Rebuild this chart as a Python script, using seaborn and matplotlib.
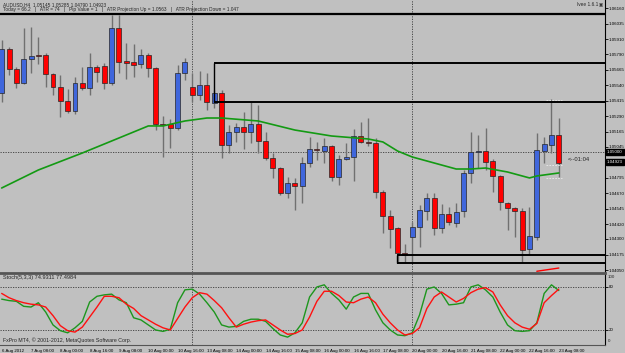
import numpy as np
import pandas as pd
import matplotlib
matplotlib.use("Agg")
import matplotlib.pyplot as plt
import seaborn as sns

# AUDUSD H4, one row per bar, bar 0 = 6 Aug 16:00, last bar = 23 Aug 08:00
opens = [1.05477, 1.05831, 1.05670, 1.05557, 1.05751, 1.05783, 1.05783, 1.05630, 1.05525, 1.05412,
         1.05332, 1.05557, 1.05517, 1.05686, 1.05694, 1.05557, 1.06001, 1.05735, 1.05726, 1.05710,
         1.05783, 1.05678, 1.05227, 1.05227, 1.05195, 1.05638, 1.05525, 1.05460, 1.05541, 1.05396,
         1.05477, 1.05058, 1.05162, 1.05203, 1.05162, 1.05227, 1.05090, 1.04953, 1.04872, 1.04671,
         1.04751, 1.04727, 1.04912, 1.05025, 1.05009, 1.05049, 1.04800, 1.04945, 1.04961, 1.05130,
         1.05082, 1.05074, 1.04679, 1.04485, 1.04389, 1.04187, 1.04316, 1.04397, 1.04526, 1.04630,
         1.04389, 1.04501, 1.04429, 1.04526, 1.04832, 1.05001, 1.05009, 1.04929, 1.04808, 1.04590,
         1.04550, 1.04526, 1.04219, 1.04316, 1.05009, 1.05058, 1.05138]
highs = [1.05904, 1.05847, 1.05686, 1.06001, 1.06009, 1.05928, 1.05799, 1.05638, 1.05622, 1.05509,
         1.05606, 1.05686, 1.05799, 1.05702, 1.05718, 1.06105, 1.06105, 1.05880, 1.05872, 1.05831,
         1.05799, 1.05686, 1.05291, 1.05267, 1.05702, 1.05759, 1.05638, 1.05654, 1.05638, 1.05501,
         1.05501, 1.05219, 1.05235, 1.05323, 1.05404, 1.05380, 1.05162, 1.04993, 1.04880, 1.04800,
         1.04792, 1.04961, 1.05122, 1.05082, 1.05114, 1.05058, 1.04977, 1.05074, 1.05186, 1.05243,
         1.05275, 1.05114, 1.04695, 1.04534, 1.04397, 1.04260, 1.04437, 1.04574, 1.04671, 1.04671,
         1.04582, 1.04558, 1.04590, 1.04856, 1.05162, 1.05138, 1.05195, 1.04945, 1.04816, 1.04598,
         1.04558, 1.04550, 1.04558, 1.05154, 1.05122, 1.05428, 1.05275]
lows = [1.05404, 1.05622, 1.05517, 1.05549, 1.05638, 1.05710, 1.05525, 1.05460, 1.05283, 1.05315,
        1.05307, 1.05501, 1.05460, 1.05565, 1.05509, 1.05541, 1.05638, 1.05589, 1.05606, 1.05678,
        1.05606, 1.05178, 1.04961, 1.05033, 1.05178, 1.05581, 1.05404, 1.05420, 1.05340, 1.05356,
        1.04953, 1.04993, 1.05082, 1.05025, 1.05074, 1.04993, 1.04937, 1.04792, 1.04655, 1.04630,
        1.04534, 1.04590, 1.04880, 1.04937, 1.04912, 1.04767, 1.04735, 1.04937, 1.04767, 1.05074,
        1.05049, 1.04630, 1.04348, 1.04227, 1.04106, 1.04106, 1.04106, 1.04235, 1.04453, 1.04332,
        1.04348, 1.04413, 1.04397, 1.04477, 1.04751, 1.04872, 1.04856, 1.04679, 1.04534, 1.04372,
        1.04316, 1.04115, 1.04171, 1.04292, 1.04912, 1.04993, 1.04800]
closes = [1.05831, 1.05670, 1.05557, 1.05751, 1.05775, 1.05775, 1.05630, 1.05525, 1.05412, 1.05332,
          1.05557, 1.05517, 1.05686, 1.05646, 1.05557, 1.06001, 1.05726, 1.05718, 1.05702, 1.05783,
          1.05678, 1.05227, 1.05219, 1.05195, 1.05638, 1.05726, 1.05460, 1.05541, 1.05404, 1.05477,
          1.05058, 1.05162, 1.05203, 1.05162, 1.05227, 1.05090, 1.04953, 1.04872, 1.04671, 1.04751,
          1.04727, 1.04912, 1.05025, 1.05017, 1.05049, 1.04800, 1.04945, 1.04961, 1.05130, 1.05082,
          1.05074, 1.04679, 1.04485, 1.04380, 1.04187, 1.04171, 1.04397, 1.04534, 1.04630, 1.04389,
          1.04501, 1.04437, 1.04517, 1.04832, 1.05001, 1.05009, 1.04920, 1.04808, 1.04598, 1.04550,
          1.04526, 1.04211, 1.04324, 1.05017, 1.05066, 1.05138, 1.04912]

# moving average read at some bars
ma_bars = [0, 5, 11, 16, 20, 22, 25, 28, 30, 35, 40, 45, 50, 52, 54, 56, 62, 64, 66, 69, 72, 73, 76]
ma_vals = [1.04711, 1.04856, 1.04993, 1.05114, 1.05211, 1.05211, 1.05251, 1.05275, 1.05275, 1.05251,
           1.05178, 1.05130, 1.05106, 1.05082, 1.05009, 1.04961, 1.04864, 1.04864, 1.04872, 1.04840,
           1.04792, 1.04808, 1.04832]

# short red indicator tail at the bottom right and the pale projection dashes
tail_bars = [73, 76]
tail_vals = [1.04040, 1.04066]
proj_levels = [1.05420, 1.04896, 1.04792]

# Stoch(5,3,3)
stoch_k = [63, 61, 60, 53, 52, 58, 45, 27, 19, 16, 23, 32, 59, 67, 69, 70, 62, 58, 37, 34,
           27, 20, 18, 21, 58, 76, 77, 70, 58, 45, 27, 24, 25, 32, 35, 35, 32, 22, 13, 10,
           16, 30, 66, 80, 83, 71, 62, 49, 66, 71, 71, 48, 30, 20, 13, 12, 16, 41, 77, 80,
           71, 55, 56, 58, 80, 83, 76, 66, 45, 27, 19, 18, 19, 30, 71, 83, 75]
stoch_d = [71, 65, 61, 58, 56, 55, 52, 40, 26, 19, 17, 24, 38, 52, 67, 67, 65, 56, 50, 40,
           34, 28, 23, 20, 36, 52, 65, 72, 70, 61, 51, 37, 24, 28, 31, 33, 34, 27, 20, 14,
           15, 20, 38, 60, 74, 74, 68, 59, 58, 63, 66, 58, 42, 30, 20, 13, 15, 23, 50, 66,
           73, 66, 59, 64, 72, 77, 79, 73, 55, 40, 30, 24, 21, 29, 58, 68, 77]

date_labels = ["6 Aug 2012", "7 Aug 08:00", "8 Aug 00:00", "8 Aug 16:00", "9 Aug 08:00",
               "10 Aug 00:00", "10 Aug 16:00", "13 Aug 08:00", "14 Aug 00:00", "14 Aug 16:00",
               "15 Aug 08:00", "16 Aug 00:00", "16 Aug 16:00", "17 Aug 08:00", "20 Aug 00:00",
               "20 Aug 16:00", "21 Aug 08:00", "22 Aug 00:00", "22 Aug 16:00", "23 Aug 08:00"]
price_ticks = [1.04050, 1.04175, 1.04300, 1.04420, 1.04545, 1.04670, 1.04795, 1.05045, 1.05165,
               1.05290, 1.05415, 1.05540, 1.05665, 1.05790, 1.05910, 1.06035, 1.06160]
stoch_levels = [20, 80]

top_line = 1.06113
upper_zone = (1.05404, 1.05718)
upper_zone_start = 29
lower_zone = (1.04106, 1.04171)
lower_zone_start = 53.9
level = 1.05000
bid = 1.04923
week_starts = [26, 56]

W, H = 625, 353
BG = "#c0c0c0"
GRID = "#3a3a3a"
SMALL = 3.2
sns.set_style("white")
plt.rcParams["font.family"] = ["Liberation Sans", "DejaVu Sans"]

fig = plt.figure(figsize=(W / 100, H / 100), dpi=100, facecolor=BG)


def px_axes(x0, y0, x1, y1):
    return fig.add_axes([x0 / W, 1 - y1 / H, (x1 - x0) / W, (y1 - y0) / H])


def ftext(x, y, s, **kw):
    kw.setdefault("fontsize", 3.4)
    kw.setdefault("va", "center")
    return fig.text(x / W, 1 - y / H, s, **kw)


ax = px_axes(0, 0, 605, 272)
axs = px_axes(0, 273, 605, 345)
xlim = (-0.23, 82.3)

df = pd.DataFrame({"open": opens, "high": highs, "low": lows, "close": closes})
df["bar"] = np.arange(len(df))
bull = df["close"] >= df["open"]
body_lo = df[["open", "close"]].min(axis=1)
body_h = np.maximum((df["open"] - df["close"]).abs(), 0.00003)

for a in (ax, axs):
    a.set_facecolor(BG)
    a.set_xlim(*xlim)
    for s in ("left", "top", "bottom"):
        a.spines[s].set_visible(False)
    a.spines["right"].set_color("black")
    a.spines["right"].set_linewidth(0.8)
    for b in week_starts:
        a.axvline(b, color=GRID, lw=0.6, ls=(0, (1.5, 1.5)), zorder=1)

# price window
ax.vlines(df["bar"], df["low"], df["high"], color="#707070", lw=1.0, zorder=2)
ax.bar(df["bar"], body_h, bottom=body_lo, width=0.68,
       color=np.where(bull, "#3f66dc", "#ff0000"), edgecolor="#262626", linewidth=0.5, zorder=3)
sns.lineplot(x=ma_bars, y=ma_vals, ax=ax, color="#139a13", lw=1.2, zorder=4)
sns.lineplot(x=tail_bars, y=tail_vals, ax=ax, color="#ff0000", lw=1.0, zorder=4)
ax.hlines(proj_levels, 74.3, 76.4, color="#ececec", lw=0.6, ls=(0, (2, 1.5)), zorder=4)

ax.axhline(top_line, color="black", lw=1.6, zorder=5)
for lo, hi, start in ((upper_zone[0], upper_zone[1], upper_zone_start),
                      (lower_zone[0], lower_zone[1], lower_zone_start)):
    ax.hlines([lo, hi], start, xlim[1], color="black", lw=1.4, zorder=5)
    ax.vlines(start, lo, hi, color="black", lw=1.0, zorder=5)
ax.axhline(level, color=GRID, lw=0.6, ls=(0, (1.5, 1.5)), zorder=1)

ax.set_ylim(1.04034, 1.06226)
ax.yaxis.tick_right()
ax.set_yticks(price_ticks)
ax.set_yticklabels([f"{p:.5f}" for p in price_ticks])
ax.set_xticks([])
ax.tick_params(axis="y", length=2, width=0.6, pad=0.8, labelsize=SMALL, colors="black")
ax.set_xlabel("")
ax.set_ylabel("")

# stochastic window
for lv in stoch_levels:
    axs.axhline(lv, color=GRID, lw=0.6, ls=(0, (1.5, 1.5)))
sns.lineplot(x=df["bar"], y=stoch_k, ax=axs, color="#1d961d", lw=1.0)
sns.lineplot(x=df["bar"], y=stoch_d, ax=axs, color="#ff1010", lw=1.0)
axs.set_ylim(-1, 99.5)
axs.yaxis.tick_right()
axs.set_yticks(stoch_levels)
axs.set_yticklabels([str(t) for t in stoch_levels])
axs.set_xticks(np.arange(0, len(df), 4))
axs.set_xticklabels(date_labels, ha="left")
axs.spines["top"].set_visible(True)
axs.spines["top"].set_color("#555555")
axs.spines["top"].set_linewidth(2.0)
axs.spines["bottom"].set_visible(True)
axs.spines["bottom"].set_color("#555555")
axs.spines["bottom"].set_linewidth(0.8)
axs.tick_params(axis="both", length=2, width=0.6, pad=0.8, labelsize=SMALL, colors="black")
axs.set_xlabel("")
axs.set_ylabel("")
ftext(608, 276.5, "100", fontsize=SMALL)
ftext(608, 341.5, "0", fontsize=SMALL)

# texts
ftext(3, 5, "AUDUSD,H4  1.05145 1.05285 1.04790 1.04923")
ftext(3, 10, "Today = 66.2   |   ATR = 74   |   Pip Value = 1   |   ATR Projection Up = 1.0563   |   "
             "ATR Projection Down = 1.047")
ftext(598, 5, "Ivee 1.6.1", ha="right")
ftext(603, 5, "\u25a3", ha="right", fontsize=3.2, family=["DejaVu Sans"])
ftext(3, 277.5, "Stoch(5,3,3) 74.9311 77.4984", fontsize=4.0)
ftext(3, 340.5, "FxPro MT4, \u00a9 2001-2012, MetaQuotes Software Corp.", fontsize=3.8)
ftext(568, 159, "<--01:04", fontsize=4.2)
box = dict(boxstyle="square,pad=0.3", fc="black", ec="black")
ftext(607, 152, f"{level:.5f}", color="white", bbox=box, fontsize=SMALL)
ftext(607, 162, f"{bid:.5f}", color="white", bbox=box, fontsize=SMALL)

fig.savefig("out.png", dpi=100, facecolor=BG)
